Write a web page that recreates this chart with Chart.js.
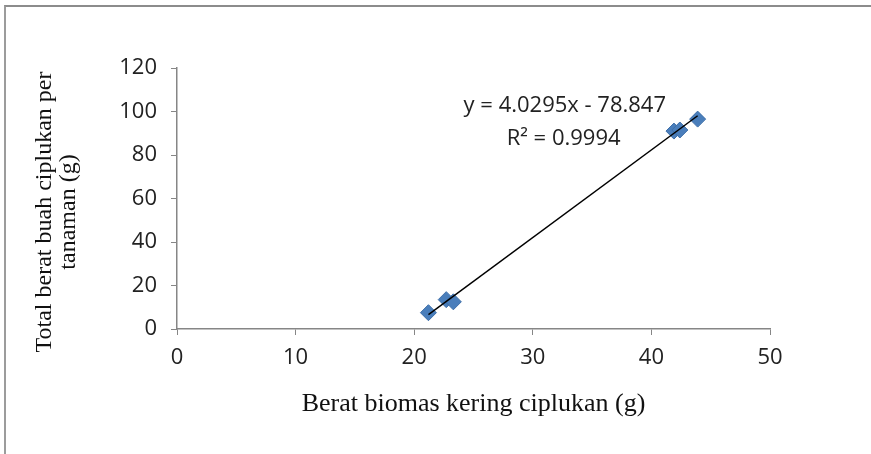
<!DOCTYPE html>
<html>
<head>
<meta charset="utf-8">
<script src="https://cdn.jsdelivr.net/npm/chart.js@4"></script>
<style>
    body { margin: 0; background: #fff; }
    #wrap { position: relative; width: 871px; height: 454px; }
    #frame { position: absolute; left: 4px; top: 5px; right: 0; bottom: 0;
             border-left: 2px solid #9c9c9c; border-top: 2px solid #8c8c8c; }
    canvas { position: absolute; left: 0; top: 0; }
</style>
</head>
<body>
<div id="wrap">
    <div id="frame"></div>
    <canvas id="myChart" width="871" height="454"></canvas>
</div>
<script>
// data
const biomas = [21.2, 22.7, 23.3, 41.9, 42.4, 43.9];
const buah = [7.5, 13.5, 12.5, 91, 91.5, 96.5];
const slope = 4.0295;
const intercept = -78.847;
const eqLabel = "y = 4.0295x - 78.847";
const r2Label = "R\u00b2 = 0.9994";
const xTitle = "Berat biomas kering ciplukan (g)";
const yTitle = ["Total berat buah ciplukan per", "tanaman (g)"];

const points = biomas.map((x, i) => ({x: x, y: buah[i]}));
const xMin = Math.min(...biomas);
const xMax = Math.max(...biomas);
const trend = [
    {x: xMin, y: slope * xMin + intercept},
    {x: xMax, y: slope * xMax + intercept},
];

const axisGray = "#868686";
const tickFont = {family: "'Open Sans'", size: 22};

const textPlugin = {
    id: "texts",
    afterDraw(chart) {
        const ctx = chart.ctx;
        const xs = chart.scales.x;
        const ys = chart.scales.y;
        ctx.save();
        ctx.fillStyle = "#222";
        ctx.textAlign = "center";
        ctx.textBaseline = "middle";
        // trendline label
        ctx.font = "22px 'Open Sans'";
        ctx.fillText(eqLabel, xs.getPixelForValue(32.7), ys.getPixelForValue(102.5));
        ctx.fillText(r2Label, xs.getPixelForValue(32.6), ys.getPixelForValue(87.6));
        // axis titles
        ctx.fillStyle = "#111";
        ctx.font = "26px 'Liberation Serif'";
        ctx.fillText(xTitle, (chart.chartArea.left + chart.chartArea.right) / 2, 404);
        ctx.translate(0, 212);
        ctx.rotate(-Math.PI / 2);
        ctx.font = "24px 'Liberation Serif'";
        ctx.fillText(yTitle[0], 0, 45);
        ctx.fillText(yTitle[1], 0, 69);
        ctx.restore();
    }
};

const ctx = document.getElementById("myChart").getContext("2d");
let scatterChart = new Chart(ctx, {
    type: "scatter",
    data: {
        datasets: [{
            label: "trend",
            data: trend,
            showLine: true,
            borderColor: "#000",
            borderWidth: 1.5,
            pointRadius: 0,
            order: 0,
        }, {
            label: "data",
            data: points,
            pointStyle: "rectRot",
            pointRadius: 8,
            backgroundColor: "#4a7ebb",
            borderColor: "#3d6ea8",
            borderWidth: 1,
            order: 1,
        }],
    },
    options: {
        responsive: false,
        animation: false,
        layout: {padding: {top: 68, right: 101, bottom: 0, left: 0}},
        plugins: {
            legend: {display: false},
            tooltip: {enabled: false},
        },
        scales: {
            x: {
                type: "linear",
                min: 0,
                max: 50,
                ticks: {stepSize: 10, color: "#222", font: tickFont, padding: 10},
                grid: {drawOnChartArea: false, color: axisGray, tickLength: 6},
                border: {color: axisGray, width: 1.5},
                afterFit: (scale) => { scale.height = 125; },
            },
            y: {
                min: 0,
                max: 120,
                ticks: {stepSize: 20, color: "#222", font: tickFont, padding: 14},
                grid: {drawOnChartArea: false, color: axisGray, tickLength: 6},
                border: {color: axisGray, width: 1.5},
                afterFit: (scale) => { scale.width = 177; },
            },
        },
    },
    plugins: [textPlugin],
});
</script>
</body>
</html>
